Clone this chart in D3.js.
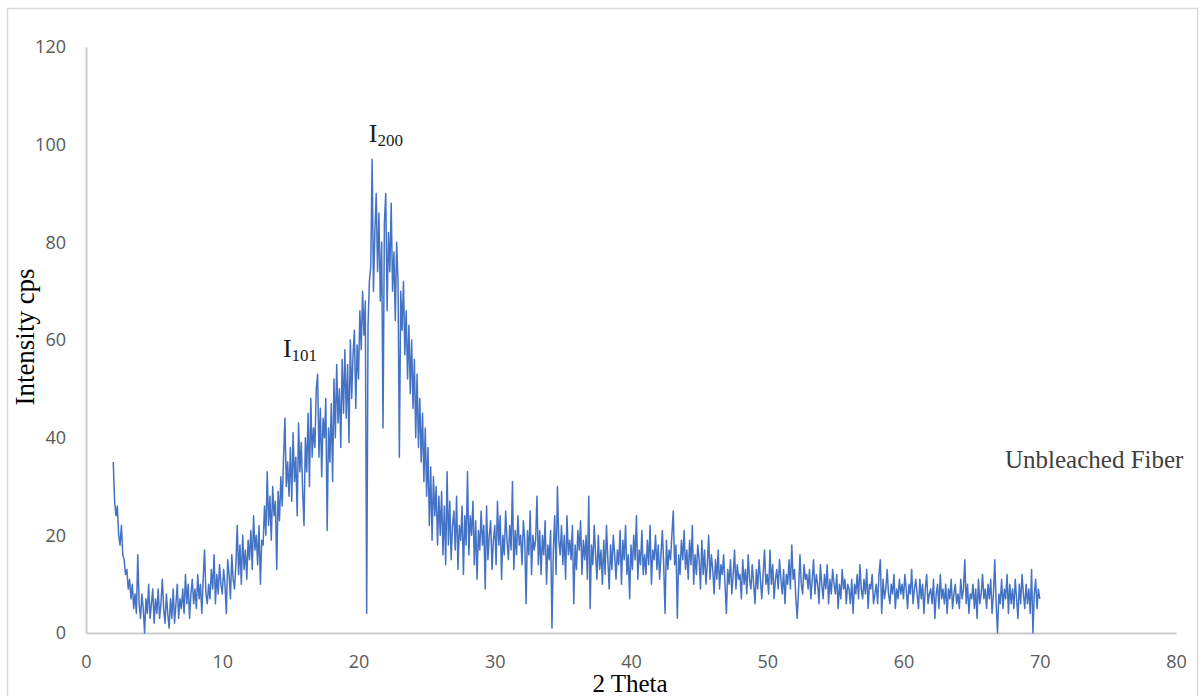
<!DOCTYPE html>
<html>
<head>
<meta charset="utf-8">
<script src="https://cdn.jsdelivr.net/npm/d3@7"></script>
<style>
    body { margin: 0; background: #fff; }
</style>
</head>
<body>
<script>
// 2-theta sampling of the scan
var angleStart = 2;
var angleStep = 0.1;

// intensity (cps), one row per degree
var intensity = [
    35, 27, 24, 26, 20, 18, 22, 16, 15, 12,
    13, 9, 11, 7, 10, 5, 8, 4, 16, 6,
    3, 8, 5, 0, 7, 4, 10, 3, 6, 9,
    2, 7, 4, 9, 3, 6, 11, 5, 2, 8,
    4, 1, 7, 3, 9, 2, 6, 10, 3, 7,
    5, 9, 4, 12, 6, 10, 3, 8, 11, 6,
    9, 5, 12, 7, 10, 4, 11, 17, 8, 6,
    10, 7, 13, 9, 16, 6, 12, 8, 14, 10,
    8, 13, 10, 4, 15, 12, 7, 16, 11, 9,
    14, 22, 12, 18, 10, 20, 13, 17, 11, 19,
    15, 21, 13, 24, 17, 20, 14, 22, 10, 19,
    18, 26, 20, 33, 22, 28, 19, 30, 24, 27,
    13, 29, 23, 32, 26, 36, 44, 30, 35, 28,
    38, 27, 41, 31, 36, 24, 43, 33, 39, 29,
    22, 40, 33, 45, 30, 48, 36, 42, 38, 50,
    53, 36, 46, 32, 44, 40, 48, 21, 42, 35,
    47, 31, 52, 40, 55, 43, 50, 38, 56, 45,
    58, 44, 55, 39, 60, 48, 57, 62, 46, 59,
    52, 66, 58, 70, 61, 68, 4, 63, 72, 75,
    97, 70, 82, 90, 74, 86, 68, 80, 42, 84,
    90, 66, 82, 74, 88, 70, 78, 64, 80, 72,
    36, 70, 62, 72, 57, 66, 52, 63, 49, 60,
    46, 56, 40, 53, 38, 48, 35, 45, 31, 42,
    28, 38, 22, 34, 19, 32, 24, 30, 18, 28,
    20, 29, 16, 26, 14, 33, 18, 27, 15, 22,
    25, 17, 28, 13, 22, 19, 26, 12, 24, 18,
    33, 16, 24, 20, 27, 14, 23, 11, 21, 17,
    25, 18, 22, 9, 26, 15, 20, 23, 13, 19,
    22, 14, 27, 18, 24, 11, 20, 16, 25, 19,
    15, 22, 17, 31, 13, 21, 16, 24, 18, 20,
    14, 23, 19, 6, 21, 16, 25, 12, 20, 17,
    19, 28, 14, 21, 12, 20, 16, 23, 10, 18,
    15, 21, 1, 17, 24, 12, 30, 19, 16, 22,
    14, 20, 11, 24, 16, 19, 15, 22, 6, 18,
    13, 21, 17, 23, 12, 19, 15, 20, 11, 28,
    5, 18, 14, 22, 16, 11, 20, 13, 17, 10,
    19, 12, 22, 15, 9, 18, 13, 20, 16, 11,
    17, 14, 21, 10, 19, 15, 22, 12, 16, 7,
    18, 13, 20, 15, 24, 11, 17, 14, 21, 12,
    16, 12, 19, 14, 22, 10, 17, 15, 20, 13,
    18, 11, 16, 21, 14, 4, 19, 13, 17, 15,
    20, 25, 14, 18, 3, 16, 12, 19, 15, 21,
    13, 17, 11, 19, 14, 22, 10, 16, 12, 18,
    15, 9, 19, 12, 17, 10, 14, 20, 11, 16,
    13, 8, 15, 11, 17, 9, 14, 12, 16, 10,
    4, 13, 10, 15, 8, 12, 17, 9, 14, 11,
    12, 7, 15, 10, 13, 8, 16, 11, 9, 14,
    10, 6, 13, 9, 15, 11, 7, 12, 17, 10,
    12, 8, 17, 10, 14, 7, 11, 13, 9, 15,
    11, 8, 13, 6, 12, 10, 15, 9, 18, 11,
    13, 7, 3, 9, 16, 10, 8, 14, 11, 12,
    9, 13, 7, 11, 15, 8, 12, 10, 6, 14,
    10, 7, 12, 9, 14, 6, 11, 8, 13, 10,
    8, 12, 5, 10, 7, 13, 9, 11, 6, 10,
    9, 6, 11, 4, 10, 8, 12, 7, 14, 9,
    7, 11, 8, 13, 5, 10, 9, 12, 6, 8,
    10, 6, 12, 15, 4, 11, 7, 9, 13, 8,
    6, 10, 8, 12, 5, 9, 7, 11, 8, 10,
    7, 12, 9, 5, 10, 8, 13, 6, 9, 11,
    8, 5, 11, 7, 10, 4, 9, 12, 6, 8,
    9, 6, 11, 3, 8, 10, 5, 12, 7, 9,
    6, 10, 4, 9, 7, 11, 5, 8, 10, 6,
    8, 5, 11, 7, 9, 15, 6, 10, 4, 8,
    7, 10, 5, 9, 3, 11, 6, 8, 12, 7,
    9, 5, 10, 7, 11, 4, 8, 15, 6, 0,
    8, 6, 11, 5, 9, 7, 12, 4, 10, 6,
    9, 5, 11, 7, 3, 10, 6, 12, 8, 5,
    10, 6, 9, 4, 13, 0, 8, 11, 5, 9,
    7
];

var xTicks = [0, 10, 20, 30, 40, 50, 60, 70, 80];
var yTicks = [0, 20, 40, 60, 80, 100, 120];

// peak annotations
var peaks = [
    { label: "I", sub: "200", angle: 20.9, value: 100.5 },
    { label: "I", sub: "101", angle: 14.6, value: 56.5 }
];

var w = 1200;
var h = 696;

var xScale = d3.scaleLinear().domain([0, 80]).range([86, 1176]);
var yScale = d3.scaleLinear().domain([0, 120]).range([633, 47]);

var svg = d3.select("body")
    .append("svg")
    .attr("width", w)
    .attr("height", h);

// chart frame
svg.append("rect")
    .attr("x", 7.5)
    .attr("y", 8.5)
    .attr("width", 1190)
    .attr("height", 720)
    .attr("fill", "none")
    .attr("stroke", "#d9d9d9")
    .attr("stroke-width", 1.5);

var xAxis = d3.axisBottom(xScale)
    .tickValues(xTicks)
    .tickSize(0)
    .tickPadding(22);

var yAxis = d3.axisLeft(yScale)
    .tickValues(yTicks)
    .tickSize(0)
    .tickPadding(20);

var gx = svg.append("g")
    .attr("class", "x axis")
    .attr("transform", "translate(0," + yScale(0) + ")")
    .call(xAxis);

var gy = svg.append("g")
    .attr("class", "y axis")
    .attr("transform", "translate(" + xScale(0) + ",0)")
    .call(yAxis);

[gx, gy].forEach(function (g) {
    g.select(".domain").attr("stroke", "#cccccc").attr("stroke-width", 2);
    g.selectAll("text")
        .attr("fill", "#595959")
        .attr("font-size", "18px")
        .attr("font-family", "'Open Sans', sans-serif");
});

// the scan
var line = d3.line()
    .x(function (d, i) { return xScale(angleStart + i * angleStep); })
    .y(function (d) { return yScale(d); });

svg.append("path")
    .datum(intensity)
    .attr("fill", "none")
    .attr("stroke", "#4472c4")
    .attr("stroke-width", 1.5)
    .attr("stroke-linejoin", "round")
    .attr("d", line);

// peak labels
peaks.forEach(function (p) {
    var t = svg.append("text")
        .attr("x", xScale(p.angle) - 2)
        .attr("y", yScale(p.value))
        .attr("font-family", "'Liberation Serif', 'Times New Roman', serif")
        .attr("font-size", "26px")
        .attr("fill", "#1a1a1a");
    t.append("tspan").text(p.label);
    t.append("tspan")
        .attr("font-size", "17px")
        .attr("dy", 4)
        .text(p.sub);
});

svg.append("text")
    .attr("text-anchor", "middle")
    .attr("transform", "translate(34," + 337 + ") rotate(-90)")
    .attr("font-family", "'Liberation Serif', 'Times New Roman', serif")
    .attr("font-size", "27px")
    .attr("fill", "#000")
    .text("Intensity cps");

svg.append("text")
    .attr("text-anchor", "middle")
    .attr("x", 630)
    .attr("y", 692)
    .attr("font-family", "'Liberation Serif', 'Times New Roman', serif")
    .attr("font-size", "25px")
    .attr("fill", "#000")
    .text("2 Theta");

svg.append("text")
    .attr("x", 1005)
    .attr("y", 468)
    .attr("font-family", "'Liberation Serif', 'Times New Roman', serif")
    .attr("font-size", "25px")
    .attr("fill", "#404040")
    .text("Unbleached Fiber");
</script>
</body>
</html>
